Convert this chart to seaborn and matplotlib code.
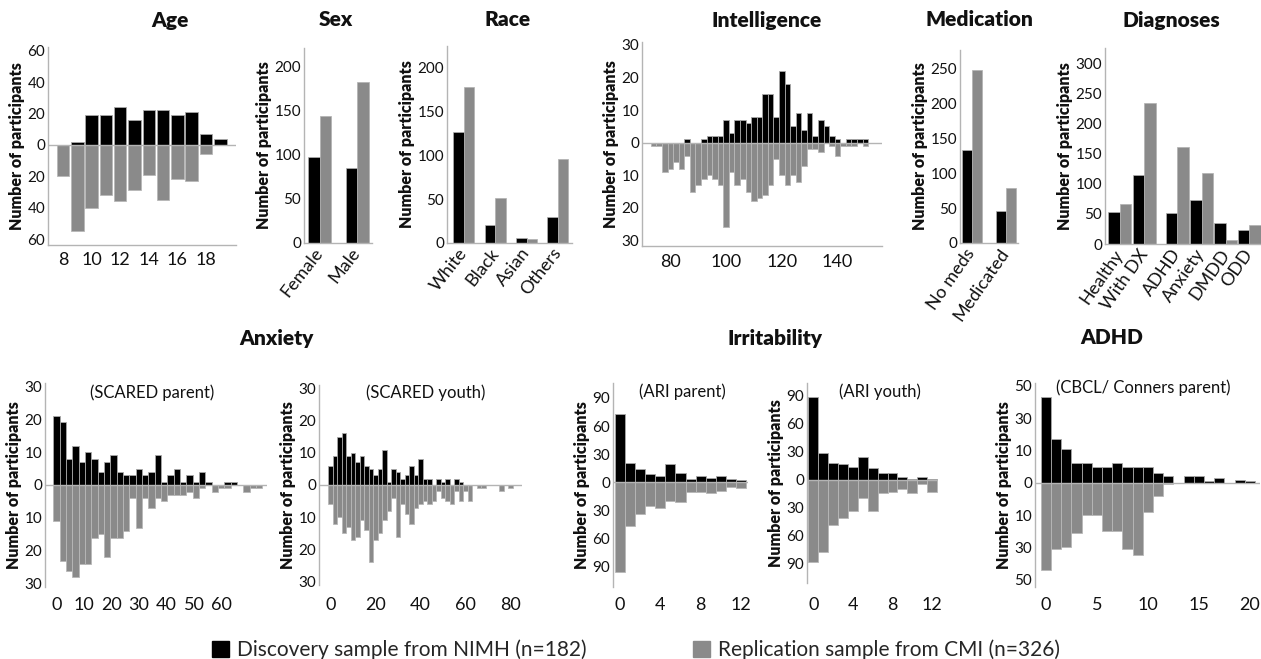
import numpy as np
import pandas as pd
import matplotlib
matplotlib.use("Agg")
import matplotlib.pyplot as plt
from matplotlib.patches import Patch
from matplotlib.ticker import FuncFormatter
import seaborn as sns

# ---------------- data ----------------
age_bins = [8, 9, 10, 11, 12, 13, 14, 15, 16, 17, 18, 19]
age_nimh = [0, 2, 19, 19, 24, 16, 22, 22, 19, 21, 7, 4]
age_cmi = [20, 55, 40, 32, 36, 29, 19, 35, 22, 23, 6, 0]

sex_labels = ["Female", "Male"]
sex_nimh = [97, 85]
sex_cmi = [144, 182]

race_labels = ["White", "Black", "Asian", "Others"]
race_nimh = [126, 21, 6, 30]
race_cmi = [177, 51, 5, 96]

iq_bins = list(range(74, 151, 2))
iq_nimh = [0, 0, 0, 0, 0, 0, 1, 0, 0, 1, 2, 2, 2, 7, 3, 7, 7, 6, 8, 8,
           15, 15, 8, 22, 18, 5, 9, 4, 9, 2, 7, 5, 2, 1, 0, 1, 1, 1, 1]
iq_cmi = [1, 1, 9, 8, 6, 8, 4, 15, 13, 11, 10, 11, 13, 26, 9, 13, 11, 15, 18, 17,
          16, 13, 5, 10, 13, 10, 12, 7, 2, 2, 3, 0, 1, 4, 1, 1, 1, 0, 1]

med_labels = ["No meds", "Medicated"]
med_nimh = [133, 46]
med_cmi = [247, 79]

dx_labels = ["Healthy", "With DX", "ADHD", "Anxiety", "DMDD", "ODD"]
dx_nimh = [53, 115, 51, 73, 35, 24]
dx_cmi = [67, 234, 161, 117, 6, 32]

scared_p_binwidth = 2.3
scared_p_nimh = [21, 19, 8, 12, 7, 10, 8, 4, 7, 9, 4, 3, 3, 5, 3, 4, 9, 1, 3, 5,
                 1, 3, 1, 4, 1, 0, 0, 1, 1, 0, 0, 0, 0]
scared_p_cmi = [11, 23, 26, 28, 24, 24, 16, 15, 22, 16, 16, 14, 4, 13, 4, 7, 4, 5, 3, 3,
                3, 2, 4, 1, 0, 2, 1, 1, 0, 0, 2, 1, 1]

scared_y_binwidth = 2
scared_y_nimh = [6, 9, 15, 16, 9, 10, 7, 9, 6, 5, 3, 5, 11, 1, 5, 4, 2, 3, 6, 3,
                 8, 2, 2, 0, 2, 1, 2, 0, 2, 1, 0, 0, 0, 0, 0, 0, 0, 0, 0, 0, 0]
scared_y_cmi = [6, 12, 10, 15, 13, 17, 16, 11, 14, 24, 17, 15, 11, 8, 4, 16, 6, 9, 12, 7,
                6, 5, 6, 5, 2, 4, 5, 6, 2, 5, 2, 5, 0, 1, 1, 0, 0, 0, 2, 0, 1]

ari_bins = list(range(0, 13))
ari_p_nimh = [73, 21, 14, 9, 7, 19, 10, 3, 7, 4, 7, 3, 2]
ari_p_cmi = [96, 47, 34, 25, 28, 20, 21, 11, 11, 12, 9, 5, 6]
ari_y_nimh = [89, 29, 18, 17, 14, 24, 12, 7, 7, 3, 1, 3, 1]
ari_y_cmi = [88, 78, 49, 41, 34, 20, 34, 14, 13, 10, 14, 5, 13]

adhd_bins = list(range(0, 21))
adhd_nimh = [43, 17, 11, 6, 6, 5, 5, 6, 5, 5, 5, 3, 2, 0, 2, 2, 0.5, 1.5, 0, 1, 0.5]
adhd_cmi = [44, 31, 30, 21, 10, 10, 20, 20, 31, 35, 9, 4, 0.5, 0, 0, 0, 0, 0, 0, 0, 0]

legend_labels = ["Discovery sample from NIMH (n=182)", "Replication sample from CMI (n=326)"]

# ---------------- style ----------------
sns.set_theme(style="white")
plt.rcParams["font.family"] = ["Lato", "DejaVu Sans"]

BLACK = "#000000"
GRAY = "#8a8a8a"
EDGE = "#a8a8a8"
SPINE = "#b4b4b4"
TXT = "#111111"

TITLE_FS = 15
YTICK_FS = 11
XTICK_FS = 13
YLAB_FS = 11.5
SUB_FS = 12

W, H = 1261, 659
fig = plt.figure(figsize=(W / 100, H / 100), dpi=100)
fig.patch.set_facecolor("white")


def add_axes(l, t, r, b):
    return fig.add_axes([l / W, 1 - b / H, (r - l) / W, (b - t) / H])


def style(ax, bottom_spine=True):
    sns.despine(ax=ax, top=True, right=True, bottom=not bottom_spine)
    for s in ["left", "bottom"]:
        ax.spines[s].set_color(SPINE)
        ax.spines[s].set_linewidth(1.0)
    ax.tick_params(length=0, colors=TXT, pad=2)
    ax.tick_params(axis="y", labelsize=YTICK_FS)
    ax.tick_params(axis="x", labelsize=XTICK_FS)
    ax.set_xlabel("")
    ax.set_ylabel("Number of participants", fontsize=YLAB_FS, fontweight="heavy",
                  color=TXT, labelpad=2)
    ax.grid(False)


absfmt = FuncFormatter(lambda v, p: f"{abs(v):g}")


def mirror(ax, x, top, bottom, width=1.0):
    x = np.asarray(x, dtype=float)
    sns.barplot(x=x, y=np.asarray(top, dtype=float), native_scale=True, color=BLACK,
                width=width, saturation=1, edgecolor=EDGE, linewidth=0.6,
                errorbar=None, ax=ax)
    sns.barplot(x=x, y=-np.asarray(bottom, dtype=float), native_scale=True, color=GRAY,
                width=width, saturation=1, edgecolor="#b8b8b8", linewidth=0.6,
                errorbar=None, ax=ax)
    ax.axhline(0, color=SPINE, lw=1.0, zorder=3)
    ax.yaxis.set_major_formatter(absfmt)


def grouped(ax, pos, labels, nimh, cmi, width, rot=52):
    n = len(pos)
    df = pd.DataFrame({"pos": list(pos) * 2,
                       "count": list(nimh) + list(cmi),
                       "sample": ["NIMH"] * n + ["CMI"] * n})
    sns.barplot(data=df, x="pos", y="count", hue="sample", hue_order=["NIMH", "CMI"],
                palette=[BLACK, GRAY], native_scale=True, width=width, saturation=1,
                errorbar=None, legend=False, edgecolor="#b0b0b0", linewidth=0.5, ax=ax)
    ax.set_xticks(list(pos))
    ax.set_xticklabels(labels, rotation=rot, ha="right", va="center",
                       rotation_mode="anchor", fontsize=12.5)


def ftext(px, py, s, **kw):
    fig.text(px / W, 1 - py / H, s, ha="center", va="center", color=TXT, **kw)


# ---------------- top row ----------------
ax = add_axes(48, 47, 236, 245)
mirror(ax, age_bins, age_nimh, age_cmi, width=0.88)
style(ax)
ax.set_xlim(6.95, 20.1)
ax.set_ylim(-63.8, 62.5)
ax.set_yticks([-60, -40, -20, 0, 20, 40, 60])
ax.set_xticks([8, 10, 12, 14, 16, 18])
ax.set_xticklabels(["8", "10", "12", "14", "16", "18"])
ax.tick_params(axis="x", pad=5)
ftext(170, 20, "Age", fontsize=TITLE_FS, fontweight="heavy")

ax = add_axes(304, 48, 372, 243)
grouped(ax, [0, 1], sex_labels, sex_nimh, sex_cmi, width=0.62)
style(ax)
ax.tick_params(axis="x", pad=5)
ax.set_xlim(-0.43, 1.4)
ax.set_ylim(0, 221)
ax.set_yticks([0, 50, 100, 150, 200])
ftext(336, 20, "Sex", fontsize=TITLE_FS, fontweight="heavy")

ax = add_axes(447, 46, 572, 243)
grouped(ax, [0, 1, 2, 3], race_labels, race_nimh, race_cmi, width=0.67)
style(ax)
ax.tick_params(axis="x", pad=5)
ax.set_xlim(-0.54, 3.45)
ax.set_ylim(0, 224)
ax.set_yticks([0, 50, 100, 150, 200])
ftext(508, 20, "Race", fontsize=TITLE_FS, fontweight="heavy")

ax = add_axes(642, 42, 882, 246)
mirror(ax, iq_bins, iq_nimh, iq_cmi, width=1.0)
style(ax)
ax.set_xlim(69.8, 156)
ax.set_ylim(-31.7, 30.9)
ax.set_yticks([-30, -20, -10, 0, 10, 20, 30])
ax.set_xticks([80, 100, 120, 140])
ax.set_xticklabels(["80", "100", "120", "140"])
ax.tick_params(axis="x", pad=6)
ftext(767, 20, "Intelligence", fontsize=TITLE_FS, fontweight="heavy")

ax = add_axes(960, 50, 1018, 243)
grouped(ax, [0, 1], med_labels, med_nimh, med_cmi, width=0.59, rot=55)
style(ax)
ax.tick_params(axis="x", pad=5)
ax.set_xlim(-0.34, 1.36)
ax.set_ylim(0, 276)
ax.set_yticks([0, 50, 100, 150, 200, 250])
ftext(979, 20, "Medication", fontsize=TITLE_FS, fontweight="heavy")

ax = add_axes(1105, 48, 1261, 244)
grouped(ax, [0, 1, 2.35, 3.35, 4.35, 5.3], dx_labels, dx_nimh, dx_cmi, width=0.99, rot=55)
style(ax)
ax.tick_params(axis="x", pad=5)
ax.set_xlim(-0.61, 5.79)
ax.set_ylim(0, 325)
ax.set_yticks([0, 50, 100, 150, 200, 250, 300])
ftext(1171, 20, "Diagnoses", fontsize=TITLE_FS, fontweight="heavy")

# ---------------- bottom row ----------------
ax = add_axes(45, 383, 267, 587)
x = np.arange(len(scared_p_nimh)) * scared_p_binwidth
mirror(ax, x, scared_p_nimh, scared_p_cmi)
style(ax, bottom_spine=False)
ax.set_xlim(-4.2, 76.5)
ax.set_ylim(-31, 31)
ax.set_yticks([-30, -20, -10, 0, 10, 20, 30])
ax.set_xticks([0, 10, 20, 30, 40, 50, 60])
ax.set_xticklabels(["0", "10", "20", "30", "40", "50", "60"])
ax.tick_params(axis="x", pad=7)
ftext(152, 393, "(SCARED parent)", fontsize=SUB_FS)

ax = add_axes(319, 385, 522, 585)
x = np.arange(len(scared_y_nimh)) * scared_y_binwidth
mirror(ax, x, scared_y_nimh, scared_y_cmi)
style(ax, bottom_spine=False)
ax.set_xlim(-5, 85)
ax.set_ylim(-31, 31)
ax.set_yticks([-30, -20, -10, 0, 10, 20, 30])
ax.set_xticks([0, 20, 40, 60, 80])
ax.set_xticklabels(["0", "20", "40", "60", "80"])
ax.tick_params(axis="x", pad=9)
ftext(426, 393, "(SCARED youth)", fontsize=SUB_FS)
ftext(276, 338, "Anxiety", fontsize=TITLE_FS, fontweight="heavy")

ax = add_axes(613, 383, 748, 587)
mirror(ax, ari_bins, ari_p_nimh, ari_p_cmi)
style(ax, bottom_spine=False)
ax.set_xlim(-0.66, 12.67)
ax.set_ylim(-112, 106)
ax.set_yticks([-90, -60, -30, 0, 30, 60, 90])
ax.set_xticks([0, 4, 8, 12])
ax.set_xticklabels(["0", "4", "8", "12"])
ax.tick_params(axis="x", pad=7)
ftext(682, 392, "(ARI parent)", fontsize=SUB_FS)

ax = add_axes(807, 383, 938, 583)
mirror(ax, ari_bins, ari_y_nimh, ari_y_cmi)
style(ax, bottom_spine=False)
ax.set_xlim(-0.63, 12.6)
ax.set_ylim(-110.7, 103.6)
ax.set_yticks([-90, -60, -30, 0, 30, 60, 90])
ax.set_xticks([0, 4, 8, 12])
ax.set_xticklabels(["0", "4", "8", "12"])
ax.tick_params(axis="x", pad=10)
ftext(880, 392, "(ARI youth)", fontsize=SUB_FS)
ftext(775, 338, "Irritability", fontsize=TITLE_FS, fontweight="heavy")

# ADHD: uneven tick spacing in the original -> piecewise-linear scale
_knots_v = [0, 10, 30, 50, 70]
_knots_u = [0, 1, 2, 3, 4]


def _fwd(v):
    v = np.asarray(v, dtype=float)
    return np.sign(v) * np.interp(np.abs(v), _knots_v, _knots_u)


def _inv(u):
    u = np.asarray(u, dtype=float)
    return np.sign(u) * np.interp(np.abs(u), _knots_u, _knots_v)


ax = add_axes(1035, 383, 1260, 587)
mirror(ax, adhd_bins, adhd_nimh, adhd_cmi)
style(ax, bottom_spine=False)
ax.set_yscale("function", functions=(_fwd, _inv))
ax.set_ylim(-54.6, 51.8)
ax.set_yticks([-50, -30, -10, 0, 10, 30, 50])
ax.yaxis.set_major_formatter(absfmt)
ax.yaxis.set_minor_locator(matplotlib.ticker.NullLocator())
ax.set_xlim(-1.08, 21.0)
ax.set_xticks([0, 5, 10, 15, 20])
ax.set_xticklabels(["0", "5", "10", "15", "20"])
ax.tick_params(axis="x", pad=7)
ftext(1143, 388, "(CBCL/ Conners parent)", fontsize=SUB_FS)
ftext(1112, 338, "ADHD", fontsize=TITLE_FS, fontweight="heavy")

# ---------------- legend ----------------
handles = [Patch(facecolor=BLACK, edgecolor=BLACK, label=legend_labels[0]),
           Patch(facecolor=GRAY, edgecolor=GRAY, label=legend_labels[1])]
fig.legend(handles=handles, loc="center", bbox_to_anchor=(636 / W, 1 - 650 / H),
           ncol=2, frameon=False, fontsize=15, handlelength=0.8, handleheight=0.8,
           handletextpad=0.4, columnspacing=5.1, borderpad=0, borderaxespad=0)

fig.savefig("out.png", dpi=100, facecolor="white")
